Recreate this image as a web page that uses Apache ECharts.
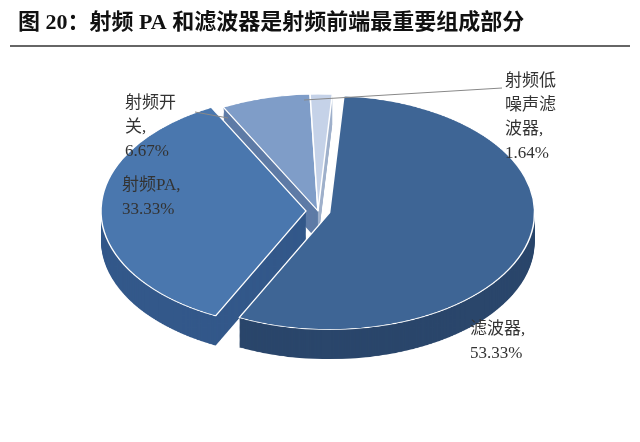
<!DOCTYPE html>
<html><head><meta charset="utf-8">
<script src="https://cdn.jsdelivr.net/npm/echarts@6/dist/echarts.min.js"></script>
<style>
body{margin:0;width:640px;height:442px;overflow:hidden;background:#fff;position:relative}
#pie{position:absolute;left:0;top:0;width:640px;height:640px;transform:scaleY(0.57);transform-origin:0 0}
#ov{position:absolute;left:0;top:0;width:640px;height:442px}
</style></head><body>
<div id="pie"></div><div id="ov"></div>
<script>
const categories=['滤波器','射频PA','射频开关','射频低噪声滤波器'];
const values=[53.33,33.33,6.67,1.64];
const labelTexts=['滤波器,\n53.33%','射频PA,\n33.33%','射频开\n关,\n6.67%','射频低\n噪声滤\n波器,\n1.64%'];
const topColors=['#3E6595','#4A77AE','#7F9DC8','#C5D2E8'];
const sideColors=['#2A466B','#33588A','#5E7BA6','#9FB0CC'];
const explode=[true,true,false,false];

const pie=echarts.init(document.getElementById('pie'));
const series=[];
const depth=52, steps=26;
for(let i=steps;i>=0;i--){
  const top=i===0;
  series.push({type:'pie',startAngle:86,clockwise:true,radius:[0,205],center:[318,370+i*depth/steps],
    selectedMode:'multiple',selectedOffset:12,silent:true,animation:false,
    label:{show:false},labelLine:{show:false},
    itemStyle:{borderColor:top?'#ffffff':'transparent',borderWidth:top?1.5:0},
    data:categories.map((c,k)=>({name:c,value:values[k],selected:explode[k],
      itemStyle:{color:top?topColors[k]:sideColors[k]}}))});
}
pie.setOption({series});

const ov=echarts.init(document.getElementById('ov'));
const font='"Liberation Serif","Noto Sans CJK SC",serif';
const pos=[[470,318],[122,174],[125,92],[505,70]];
const g=labelTexts.map((t,k)=>({type:'text',left:pos[k][0],top:pos[k][1],
  style:{text:t,font:'17px '+font,fill:'#333',lineHeight:24}}));
g.push({type:'text',left:18,top:12,style:{text:'图 20：射频 PA 和滤波器是射频前端最重要组成部分',font:'bold 22px '+font,fill:'#111'}});
g.push({type:'line',shape:{x1:10,y1:46,x2:630,y2:46},style:{stroke:'#333',lineWidth:1.5}});
g.push({type:'line',shape:{x1:195,y1:112,x2:228,y2:118},style:{stroke:'#888',lineWidth:1}});
g.push({type:'line',shape:{x1:502,y1:88,x2:304,y2:100},style:{stroke:'#888',lineWidth:1}});
ov.setOption({graphic:g});
</script></body></html>
